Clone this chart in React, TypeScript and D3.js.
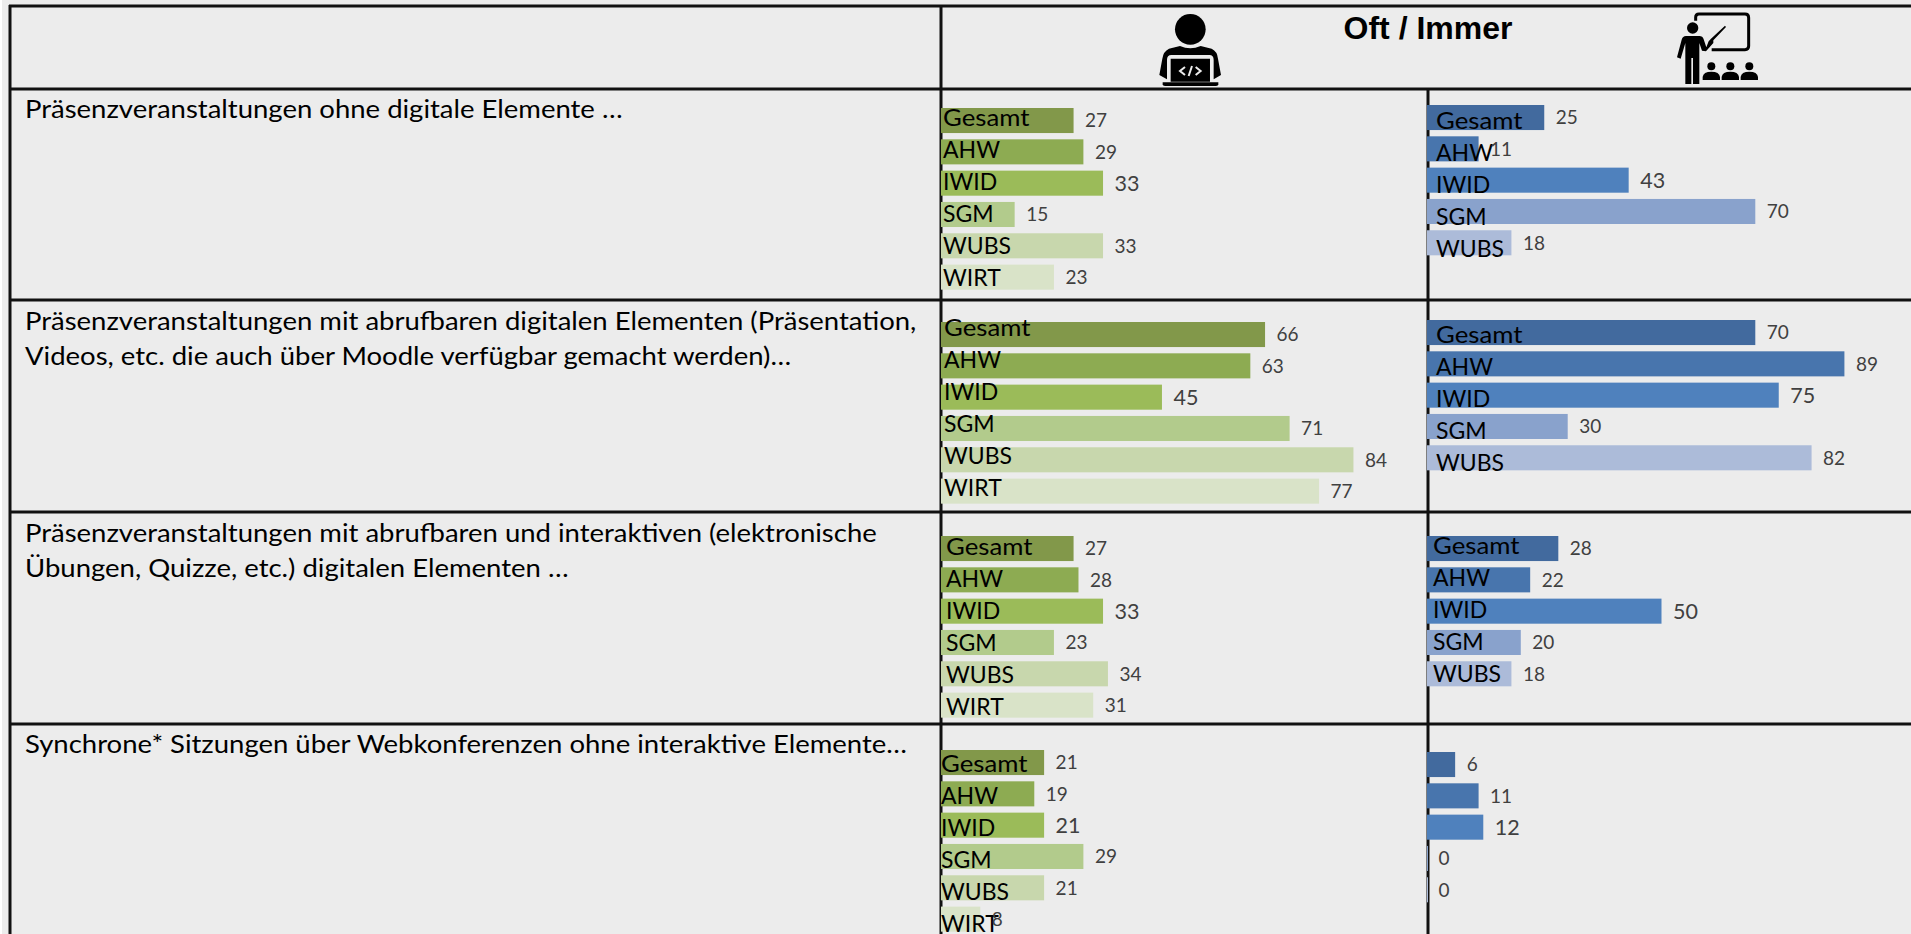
import React from "react";
import * as d3 from "d3";

const categories = ["Gesamt", "AHW", "IWID", "SGM", "WUBS", "WIRT"];
const greenColors = ["#82984A", "#8DAB52", "#9BBB59", "#B2CB8C", "#C8D7AD", "#D9E3C8"];
const blueColors = ["#426A9E", "#4875AD", "#4F81BD", "#89A2CC", "#ACBBD9"];

const greenValues = [
  [27, 29, 33, 15, 33, 23],
  [66, 63, 45, 71, 84, 77],
  [27, 28, 33, 23, 34, 31],
  [21, 19, 21, 29, 21, 8],
];
const blueValues = [
  [25, 11, 43, 70, 18],
  [70, 89, 75, 30, 82],
  [28, 22, 50, 20, 18],
  [6, 11, 12, 0, 0],
];
const rowTexts = [
  ["Präsenzveranstaltungen ohne digitale Elemente …"],
  ["Präsenzveranstaltungen mit abrufbaren digitalen Elementen (Präsentation,", "Videos, etc. die auch über Moodle verfügbar gemacht werden)…"],
  ["Präsenzveranstaltungen mit abrufbaren und interaktiven (elektronische", "Übungen, Quizze, etc.) digitalen Elementen …"],
  ["Synchrone* Sitzungen über Webkonferenzen ohne interaktive Elemente…"],
];
const title = "Oft / Immer";

// layout
const W = 1911, H = 934;
const hLines = [6, 89, 300, 512, 724];
const vLeft = 10, vMid = 941, vRight = 1428;
const rowTextBase = [[118], [330, 365], [542, 577], [753]];
const greenTop = [108, 322, 536, 750];
const blueTop = [105, 320, 536, 752];
const greenLabel = [{ x: 943, y: 126 }, { x: 944, y: 336 }, { x: 946, y: 555 }, { x: 941, y: 772 }];
const blueLabel = [{ x: 1436, y: 129 }, { x: 1436, y: 343 }, { x: 1433, y: 554 }, null];
const labelStretch = [1.12, 1, 1, 1, 1, 1];
const STEP = 31.33, BAR = 25, LABEL_STEP = 32;

const xGreen = d3.scaleLinear().domain([0, 100]).range([941, 941 + 491]);
const xBlue = d3.scaleLinear().domain([0, 100]).range([1427, 1427 + 469]);

const TEXT = "Lato, 'Noto Sans', sans-serif";

function Panel({ values, colors, x, top, label }: any) {
  const cats = categories.slice(0, values.length);
  const y = d3
    .scaleBand()
    .domain(cats)
    .range([top, top + (cats.length - 1) * STEP + BAR])
    .paddingInner(0.2)
    .paddingOuter(0);
  return (
    <g>
      {cats.map((c: string, i: number) => (
        <rect
          key={c}
          x={x(0)}
          y={y(c)}
          width={Math.max(x(values[i]) - x(0), 1)}
          height={y.bandwidth()}
          fill={colors[i]}
        />
      ))}
      {label &&
        cats.map((c: string, i: number) => (
          <text
            key={c}
            transform={`translate(${label.x},${label.y + i * LABEL_STEP}) scale(${labelStretch[i]},1)`}
            fontFamily={TEXT}
            fontSize={23}
            fill="#000"
          >
            {c}
          </text>
        ))}
      {cats.map((c: string, i: number) => (
        <text
          key={c}
          x={x(values[i]) + 11.5}
          y={(y(c) as number) + y.bandwidth() / 2}
          dy="0.36em"
          fontFamily={TEXT}
          fontSize={i === 2 ? 21.5 : 19}
          fill="#404040"
        >
          {values[i]}
        </text>
      ))}
    </g>
  );
}

function CoderIcon() {
  return (
    <g transform="translate(1130,10) scale(0.3333)">
      <circle cx={181} cy={58} r={46} fill="#000" />
      <path
        d="M150,108 Q181,122 212,108 L245,116 Q262,124 264,146 L273,195 L251,208 L251,150 Q251,135 238,135 L124,135 Q111,135 111,150 L111,208 L88,195 L97,146 Q100,124 117,116 Z"
        fill="#000"
      />
      <path d="M122,146 L240,146 L240,215 L122,215 Z" fill="#000" />
      <path d="M98,217 L265,217 L265,223 Q265,228 258,228 L105,228 Q98,228 98,223 Z" fill="#000" />
      <path
        d="M165,171 L150,183 L165,195 M197,171 L212,183 L197,195 M186,168 L176,198"
        fill="none"
        stroke="#ECECEC"
        strokeWidth={6}
      />
    </g>
  );
}

function TeacherIcon() {
  return (
    <g transform="translate(1660,8) scale(0.3333)">
      <path
        d="M107,38 L107,28 Q107,18 117,18 L255,18 Q266,18 266,29 L266,114 Q266,125 255,125 L155,125"
        fill="none"
        stroke="#000"
        strokeWidth={9}
      />
      <circle cx={98} cy={60} r={17} fill="#000" />
      <path
        d="M78,84 L118,84 Q128,84 131,94 L139,118 L146,100 L153,92 L195,53 L198,57 L160,97 L160,105 L138,130 L126,128 L118,105 L118,150 L118,228 L99,228 L99,150 L94,150 L94,228 L76,228 L76,105 L62,152 L51,148 L65,95 Q68,84 78,84 Z"
        fill="#000"
      />
      {[154, 211, 268].map((cx) => (
        <g key={cx}>
          <circle cx={cx} cy={175} r={12} fill="#000" />
          <path d={`M${cx - 26},216 L${cx - 26},207 Q${cx - 24},191 ${cx},191 Q${cx + 24},191 ${cx + 26},207 L${cx + 26},216 Z`} fill="#000" />
        </g>
      ))}
    </g>
  );
}

export default function App() {
  return (
    <svg width={W} height={H} viewBox={`0 0 ${W} ${H}`} style={{ position: "fixed", left: 0, top: 0, display: "block" }}>
      <rect x={0} y={0} width={W} height={H} fill="#ECECEC" />
      <rect x={0} y={0} width={2} height={H} fill="#FFFFFF" />
      {hLines.map((y) => (
        <line key={y} x1={vLeft - 1} x2={W} y1={y} y2={y} stroke="#111" strokeWidth={3} />
      ))}
      <line x1={vLeft} x2={vLeft} y1={5} y2={H} stroke="#111" strokeWidth={3} />
      <line x1={vMid} x2={vMid} y1={5} y2={H} stroke="#111" strokeWidth={3} />
      <line x1={vRight} x2={vRight} y1={89} y2={H} stroke="#111" strokeWidth={3} />

      <text x={1428} y={39} textAnchor="middle" fontFamily="'Liberation Sans', Arial, sans-serif" fontWeight={700} fontSize={32} fill="#000">
        {title}
      </text>
      <CoderIcon />
      <TeacherIcon />

      {rowTexts.map((lines, r) =>
        lines.map((t, j) => (
          <text
            key={`${r}-${j}`}
            transform={`translate(25,${rowTextBase[r][j]}) scale(1.1,1)`}
            fontFamily={TEXT}
            fontSize={25}
            fill="#000"
          >
            {t}
          </text>
        ))
      )}

      {greenValues.map((v, r) => (
        <Panel key={`g${r}`} values={v} colors={greenColors} x={xGreen} top={greenTop[r]} label={greenLabel[r]} />
      ))}
      {blueValues.map((v, r) => (
        <Panel key={`b${r}`} values={v} colors={blueColors} x={xBlue} top={blueTop[r]} label={blueLabel[r]} />
      ))}
    </svg>
  );
}
